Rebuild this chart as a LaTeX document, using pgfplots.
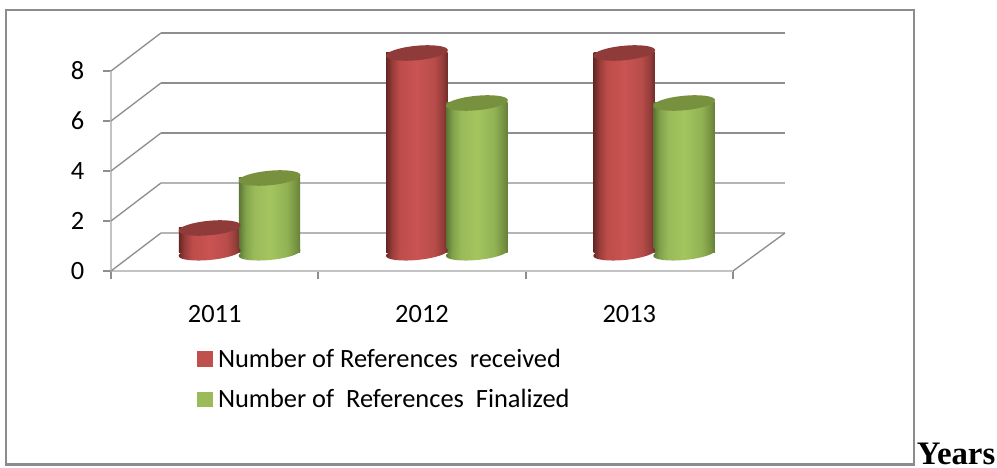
\documentclass[border=0pt]{standalone}
\usepackage{fontspec}
\setmainfont{Carlito}
\newfontfamily\tnr{Liberation Serif}
\usepackage{pgfplots}
\pgfplotsset{compat=1.18}
\definecolor{gridA}{HTML}{8E8E8E}
\definecolor{gridB}{HTML}{B4B4B4}
\definecolor{cR}{HTML}{C0504D}
\definecolor{cG}{HTML}{9BBB59}
\definecolor{capR}{HTML}{8F3B39}
\definecolor{capG}{HTML}{78913F}
\pgfdeclarehorizontalshading{cylR}{100bp}{rgb(0bp)=(.40,.15,.14); rgb(25bp)=(.40,.15,.14); rgb(30bp)=(.60,.24,.23); rgb(36bp)=(.74,.30,.29); rgb(50bp)=(.79,.33,.32); rgb(64bp)=(.72,.30,.29); rgb(71bp)=(.58,.24,.23); rgb(75bp)=(.44,.17,.16); rgb(100bp)=(.44,.17,.16)}
\pgfdeclarehorizontalshading{cylG}{100bp}{rgb(0bp)=(.36,.46,.20); rgb(25bp)=(.36,.46,.20); rgb(30bp)=(.50,.63,.29); rgb(37bp)=(.60,.73,.35); rgb(50bp)=(.64,.77,.37); rgb(64bp)=(.57,.70,.33); rgb(71bp)=(.47,.58,.26); rgb(75bp)=(.39,.50,.22); rgb(100bp)=(.39,.50,.22)}
\pgfdeclareplotmark{captop}{\pgfpathellipse{\pgfpointorigin}{\pgfqpoint{23.2pt}{2.2pt}}{\pgfqpoint{-0.5pt}{5.4pt}}\pgfusepathqfill}
\pgfdeclareplotmark{baseR}{\pgfpathellipse{\pgfpointorigin}{\pgfqpoint{23.2pt}{2.2pt}}{\pgfqpoint{-0.5pt}{5.2pt}}\pgfshadepath{cylR}{0}\pgfusepath{discard}}
\pgfdeclareplotmark{baseG}{\pgfpathellipse{\pgfpointorigin}{\pgfqpoint{23.2pt}{2.2pt}}{\pgfqpoint{-0.5pt}{5.2pt}}\pgfshadepath{cylG}{0}\pgfusepath{discard}}
\begin{document}
\begin{tikzpicture}[x=1pt,y=1pt]
\useasboundingbox (0,0) rectangle (747.75,351);
\draw[color=gray!90,line width=2pt] (4.5,2.5) rectangle (685.5,343.5);
\node[anchor=base west,inner sep=0pt,font=\tnr\bfseries\fontsize{24.6}{24.6}\selectfont] at (687.5,2.6) {Years};
% walls, floor, value ticks, categories
\begin{axis}[
  at={(83.25pt,147.75pt)},anchor=south west,
  scale only axis,width=466.5pt,height=150pt,
  xmin=0,xmax=3,ymin=0,ymax=8,clip=false,
  axis x line*=bottom,axis y line*=left,
  axis line style={draw=gridB!80,line width=1.6pt,-},
  xtick={0,1,2,3},x tick label as interval,
  xticklabels={2011,2012,2013},
  ytick={0,2,4,6,8},
  major tick length=6pt,
  tick align=outside,
  tick style={draw=gridA,line width=1.5pt},
  /pgf/number format/assume math mode=true,
  tick label style={font=\fontsize{19.8}{21}\selectfont,text=black},
  yticklabel style={xshift=-10.5pt},
  xticklabel style={yshift=-16.5pt},
  legend cell align=left,
  legend style={at={(0.138,-0.375)},anchor=north west,draw=none,fill=none,
    font=\fontsize{19.8}{21}\selectfont,
    /tikz/row sep=11pt,inner sep=0pt},
]
\addplot[gridA,line width=1pt,forget plot] coordinates {(0,0) (0.241,1.52)};
\addplot[gridA,line width=1pt,forget plot] coordinates {(0,2) (0.241,3.52)};
\addplot[gridA,line width=1pt,forget plot] coordinates {(0,4) (0.241,5.52)};
\addplot[gridA,line width=1pt,forget plot] coordinates {(0,6) (0.241,7.52)};
\addplot[gridA,line width=1pt,forget plot] coordinates {(0,8) (0.241,9.52)};
\addplot[gridB,line width=1.8pt,forget plot] coordinates {(0.241,1.52) (3.251,1.52)};
\addplot[gridB,line width=1.8pt,forget plot] coordinates {(0.241,3.52) (3.251,3.52)};
\addplot[gridA,line width=1.8pt,forget plot] coordinates {(0.241,5.52) (3.251,5.52)};
\addplot[gridA,line width=1.8pt,forget plot] coordinates {(0.241,7.52) (3.251,7.52)};
\addplot[gridA,line width=1.8pt,forget plot] coordinates {(0.241,9.52) (3.251,9.52)};
\addplot[gridA,line width=1pt,forget plot] coordinates {(3,0) (3.251,1.52)};
\addlegendimage{legend image code/.code={\fill[cR] (0pt,-5.2pt) rectangle (10.8pt,5.6pt);}}
\addlegendentry{\hspace{2.5pt}Number of References\ \ received}
\addlegendimage{legend image code/.code={\fill[cG] (0pt,-5.2pt) rectangle (10.8pt,5.6pt);}}
\addlegendentry{\hspace{2.5pt}Number of\ \ References\ \ Finalized}
\end{axis}
% cylinders
\begin{axis}[
  at={(83.25pt,147.75pt)},anchor=south west,
  scale only axis,width=466.5pt,height=150pt,
  xmin=2010.38,xmax=2013.38,ymin=-0.72,ymax=7.28,clip=false,hide axis,
]
\addplot[only marks,mark=baseR,mark options={xshift=-22.5pt}] coordinates {(2011,0) (2012,0) (2013,0)};
\addplot[ybar,bar width=46pt,bar shift=-22.5pt,draw=none,shade,shading=cylR] coordinates {(2011,1)};
\addplot[ybar,bar width=46pt,bar shift=-22.5pt,draw=none,shade,shading=cylR] coordinates {(2012,8)};
\addplot[ybar,bar width=46pt,bar shift=-22.5pt,draw=none,shade,shading=cylR] coordinates {(2013,8)};
\addplot[only marks,mark=captop,mark options={xshift=-22.5pt,fill=capR,draw=none}] coordinates {(2011,1) (2012,8) (2013,8)};
\addplot[only marks,mark=baseG,mark options={xshift=22.5pt}] coordinates {(2011,0) (2012,0) (2013,0)};
\addplot[ybar,bar width=46pt,bar shift=22.5pt,draw=none,shade,shading=cylG] coordinates {(2011,3)};
\addplot[ybar,bar width=46pt,bar shift=22.5pt,draw=none,shade,shading=cylG] coordinates {(2012,6)};
\addplot[ybar,bar width=46pt,bar shift=22.5pt,draw=none,shade,shading=cylG] coordinates {(2013,6)};
\addplot[only marks,mark=captop,mark options={xshift=22.5pt,fill=capG,draw=none}] coordinates {(2011,3) (2012,6) (2013,6)};
\end{axis}
\end{tikzpicture}
\end{document}
